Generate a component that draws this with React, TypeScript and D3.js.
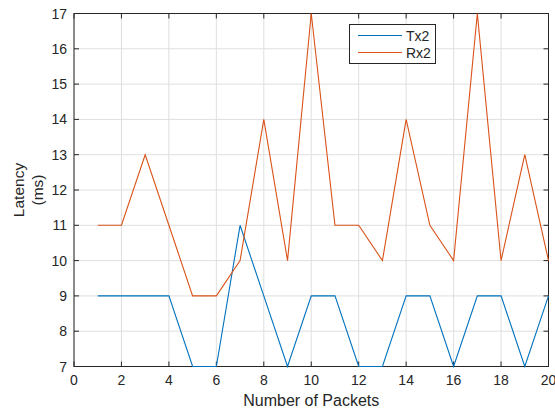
import React from "react";
import * as d3 from "d3";

const packets = [1, 2, 3, 4, 5, 6, 7, 8, 9, 10, 11, 12, 13, 14, 15, 16, 17, 18, 19, 20];
const tx2 = [9, 9, 9, 9, 7, 7, 11, 9, 7, 9, 9, 7, 7, 9, 9, 7, 9, 9, 7, 9];
const rx2 = [11, 11, 13, 11, 9, 9, 10, 14, 10, 17, 11, 11, 10, 14, 11, 10, 17, 10, 13, 10];
const xTicks = [0, 2, 4, 6, 8, 10, 12, 14, 16, 18, 20];
const yTicks = [7, 8, 9, 10, 11, 12, 13, 14, 15, 16, 17];
const seriesNames = ["Tx2", "Rx2"];
const colors = ["#0072BD", "#D95319"];

export default function App() {
  const W = 555, H = 412;
  const L = 74, R = 548.5, T = 13.5, B = 366.5;
  const x = d3.scaleLinear().domain([0, 20]).range([L, R]);
  const y = d3.scaleLinear().domain([7, 17]).range([B, T]);
  const line = d3.line<number>().x((_, i) => x(packets[i])).y((d) => y(d));
  const font = "'Liberation Sans', Arial, Helvetica, sans-serif";
  const axisColor = "#262626";
  const tickLen = 5;
  return (
    <svg width={W} height={H} style={{ position: "absolute", left: 0, top: 0 }} fontFamily={font}>
      <rect width={W} height={H} fill="#fff" />
      {xTicks.map((t) => (
        <line key={"gx" + t} x1={x(t)} x2={x(t)} y1={T} y2={B} stroke="#dfdfdf" strokeWidth={1} />
      ))}
      {yTicks.map((t) => (
        <line key={"gy" + t} x1={L} x2={R} y1={y(t)} y2={y(t)} stroke="#dfdfdf" strokeWidth={1} />
      ))}
      <rect x={L} y={T} width={R - L} height={B - T} fill="none" stroke={axisColor} strokeWidth={1} />
      {xTicks.map((t) => (
        <g key={"tx" + t}>
          <line x1={x(t)} x2={x(t)} y1={B} y2={B - tickLen} stroke={axisColor} />
          <line x1={x(t)} x2={x(t)} y1={T} y2={T + tickLen} stroke={axisColor} />
          <text x={x(t)} y={B + 18.5} textAnchor="middle" fontSize={14} fill={axisColor}>{t}</text>
        </g>
      ))}
      {yTicks.map((t) => (
        <g key={"ty" + t}>
          <line x1={L} x2={L + tickLen} y1={y(t)} y2={y(t)} stroke={axisColor} />
          <line x1={R} x2={R - tickLen} y1={y(t)} y2={y(t)} stroke={axisColor} />
          <text x={L - 7} y={y(t) + 5} textAnchor="end" fontSize={14} fill={axisColor}>{t}</text>
        </g>
      ))}
      {[tx2, rx2].map((s, i) => (
        <path key={i} d={line(s) || ""} fill="none" stroke={colors[i]} strokeWidth={1.1} />
      ))}
      <text x={(L + R) / 2} y={406} textAnchor="middle" fontSize={16} fill={axisColor}>Number of Packets</text>
      <g transform={`translate(23.5, ${(T + B) / 2}) rotate(-90)`}>
        <text x={0} y={0} textAnchor="middle" fontSize={15.5} fill={axisColor}>Latency</text>
        <text x={0} y={19} textAnchor="middle" fontSize={15.5} fill={axisColor}>(ms)</text>
      </g>
      <g>
        <rect x={349.5} y={24.5} width={86} height={39} fill="#fff" stroke={axisColor} strokeWidth={1} />
        {seriesNames.map((n, i) => (
          <g key={n}>
            <line x1={358} x2={402} y1={35.5 + i * 17} y2={35.5 + i * 17} stroke={colors[i]} strokeWidth={1.1} />
            <text x={406} y={40.5 + i * 17} fontSize={14} fill={axisColor}>{n}</text>
          </g>
        ))}
      </g>
    </svg>
  );
}
